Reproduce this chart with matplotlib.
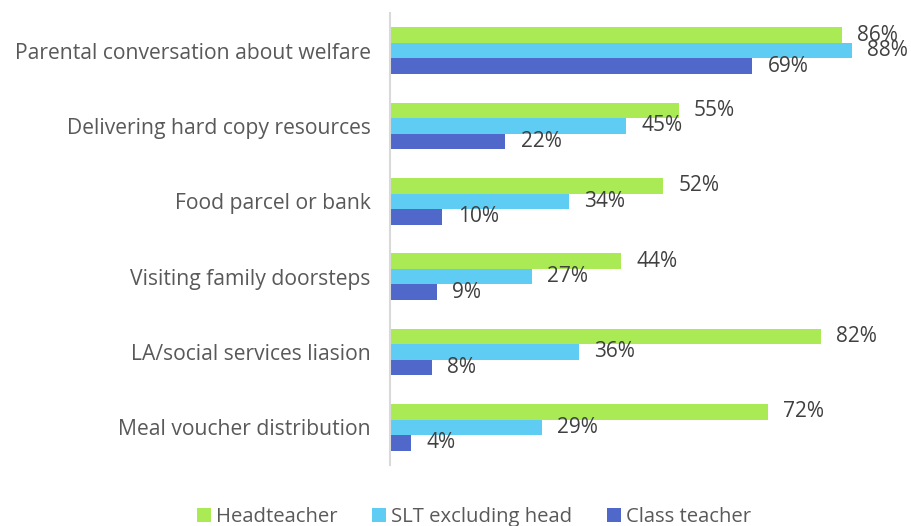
import matplotlib.pyplot as plt
import numpy as np

categories = [
    "Parental conversation about welfare",
    "Delivering hard copy resources",
    "Food parcel or bank",
    "Visiting family doorsteps",
    "LA/social services liasion",
    "Meal voucher distribution",
]
series_names = ["Headteacher", "SLT excluding head", "Class teacher"]
headteacher = [86, 55, 52, 44, 82, 72]
slt = [88, 45, 34, 27, 36, 29]
class_teacher = [69, 22, 10, 9, 8, 4]

COLORS = ["#AAEB55", "#5FCDF3", "#4F68C9"]
LABEL_TEXT = "#404040"
AXIS_TEXT = "#595959"

plt.rcParams["font.family"] = ["Open Sans", "DejaVu Sans"]

fig = plt.figure(figsize=(9.12, 5.26), dpi=100)
# axes placed in pixel terms: x from 390px (0%) to 915px (100%), y from 13px to 465px
ax = fig.add_axes([390 / 912, 1 - 465 / 526, 525 / 912, 452 / 526])

y = np.arange(len(categories))
bar_h = 0.207
values = [headteacher, slt, class_teacher]
for i, (vals, name, color) in enumerate(zip(values, series_names, COLORS)):
    pos = y + (i - 1) * bar_h
    ax.barh(pos, vals, height=bar_h, color=color, label=name)
    for p, v in zip(pos, vals):
        ax.text(v + 2.9, p, f"{v}%", va="center", ha="left",
                fontsize=15, color=LABEL_TEXT)

ax.set_xlim(0, 100)
ax.set_ylim(len(categories) - 0.5, -0.5)
ax.set_yticks(y)
ax.set_yticklabels(categories, fontsize=15.2, color=AXIS_TEXT)
ax.set_xticks([])
ax.tick_params(axis="y", length=0, pad=14)

for side in ["top", "right", "bottom"]:
    ax.spines[side].set_visible(False)
ax.spines["left"].set_color("#D9D9D9")
ax.spines["left"].set_linewidth(1.5)

handles, labels = ax.get_legend_handles_labels()
fig.legend(handles, labels, loc="center", bbox_to_anchor=(474 / 912, 1 - 517 / 526),
           ncol=3, frameon=False, fontsize=14.6, handlelength=0.7, handleheight=0.7,
           handletextpad=0.25, columnspacing=1.7, labelcolor=AXIS_TEXT,
           borderaxespad=0, borderpad=0)

fig.savefig("out.png", dpi=100)
